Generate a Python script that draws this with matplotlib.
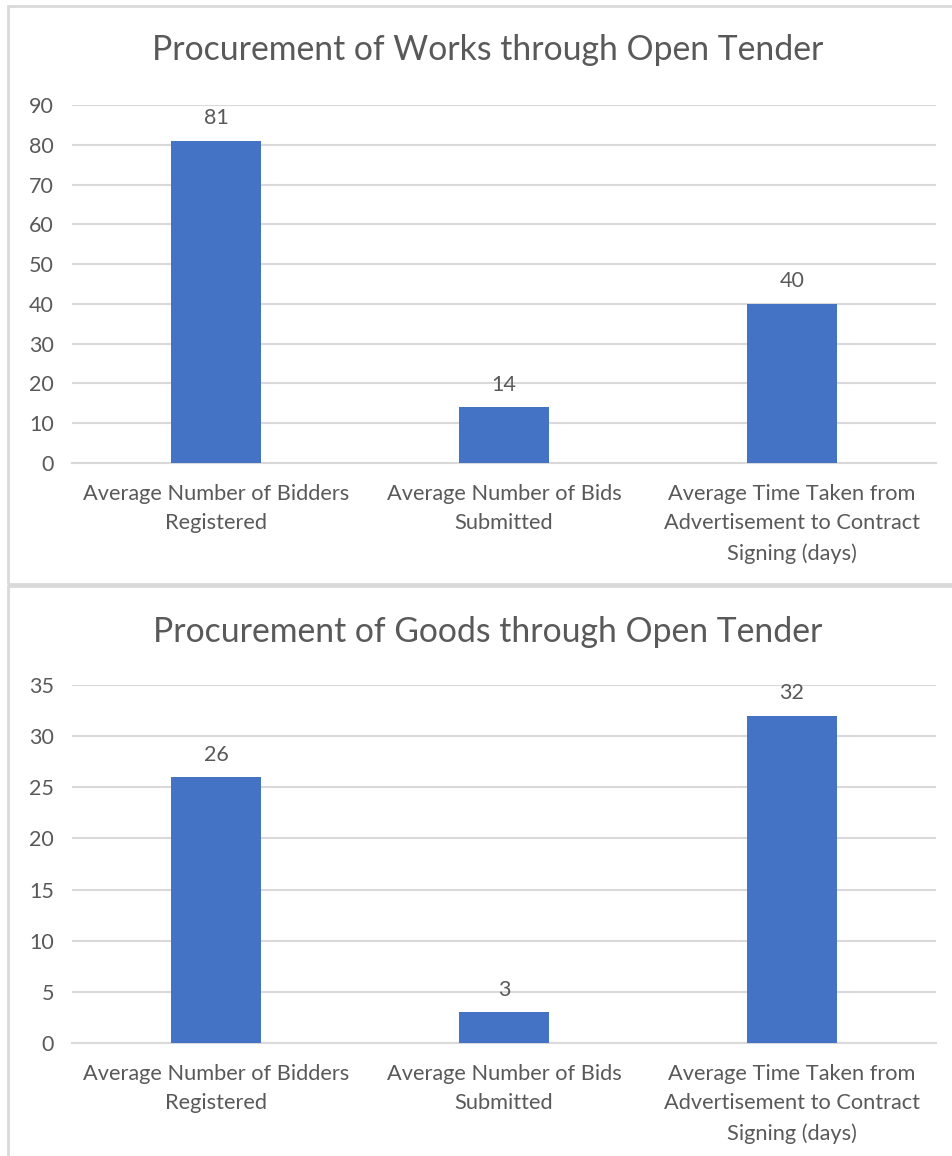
import matplotlib
matplotlib.use('Agg')
from matplotlib import pyplot as plt
from matplotlib import patches as patches

# Category labels (same for both charts)
categories = ['Average Number of Bidders\nRegistered',
              'Average Number of Bids\nSubmitted',
              'Average Time Taken from\nAdvertisement to Contract\nSigning (days)']

works_title = 'Procurement of Works through Open Tender'
works_values = [81, 14, 40]
works_ticks = [0, 10, 20, 30, 40, 50, 60, 70, 80, 90]

goods_title = 'Procurement of Goods through Open Tender'
goods_values = [26, 3, 32]
goods_ticks = [0, 5, 10, 15, 20, 25, 30, 35]

bar_color = '#4472C4'
text_color = '#595959'
grid_color = '#D9D9D9'

plt.rcParams['font.family'] = ['Lato', 'DejaVu Sans']

fig = plt.figure(figsize=(9.52, 11.56), dpi=100)

def draw_panel(rect, title, values, ticks, title_y):
    ax = fig.add_axes(rect)
    x = range(len(values))
    ax.bar(x, values, width=0.3125, color=bar_color, zorder=3)
    for k, v in enumerate(values):
        ax.annotate(str(v), (k, v), xytext=(0, 9), textcoords='offset points',
                    ha='center', va='bottom', fontsize=15.5, color=text_color)
    ax.set_xlim(-0.5, len(values) - 0.5)
    ax.set_ylim(ticks[0], ticks[-1])
    ax.set_yticks(ticks)
    ax.set_xticks(list(x))
    ax.set_xticklabels(categories, fontsize=15.7, color=text_color, linespacing=1.6)
    ax.tick_params(axis='y', length=0, pad=13, labelsize=15.5, labelcolor=text_color)
    ax.tick_params(axis='x', length=0, pad=15)
    ax.yaxis.grid(True, color=grid_color, linewidth=1.5, zorder=0)
    ax.set_axisbelow(True)
    for s in ['top', 'right', 'left']:
        ax.spines[s].set_visible(False)
    ax.spines['bottom'].set_color(grid_color)
    ax.spines['bottom'].set_linewidth(1.5)
    # title is centred on the whole chart frame, not the plot area
    fig.text(0.512, title_y, title, ha='center', va='center',
             fontsize=24.3, color=text_color)
    return ax

draw_panel([0.0756, 0.5995, 0.9076, 0.3097], works_title, works_values, works_ticks, 0.9567)
draw_panel([0.0756, 0.0978, 0.9076, 0.3096], goods_title, goods_values, goods_ticks, 0.4533)

# Panel borders
fig.patches.append(patches.Rectangle((8 / 952, 1 - 584 / 1156), 1.0, (584 - 6) / 1156,
                                     transform=fig.transFigure, fill=False,
                                     edgecolor=grid_color, linewidth=2))
fig.patches.append(patches.Rectangle((8 / 952, -0.01), 1.0, 0.01 + (1156 - 586) / 1156,
                                     transform=fig.transFigure, fill=False,
                                     edgecolor=grid_color, linewidth=2))

fig.savefig('out.png', dpi=100)
